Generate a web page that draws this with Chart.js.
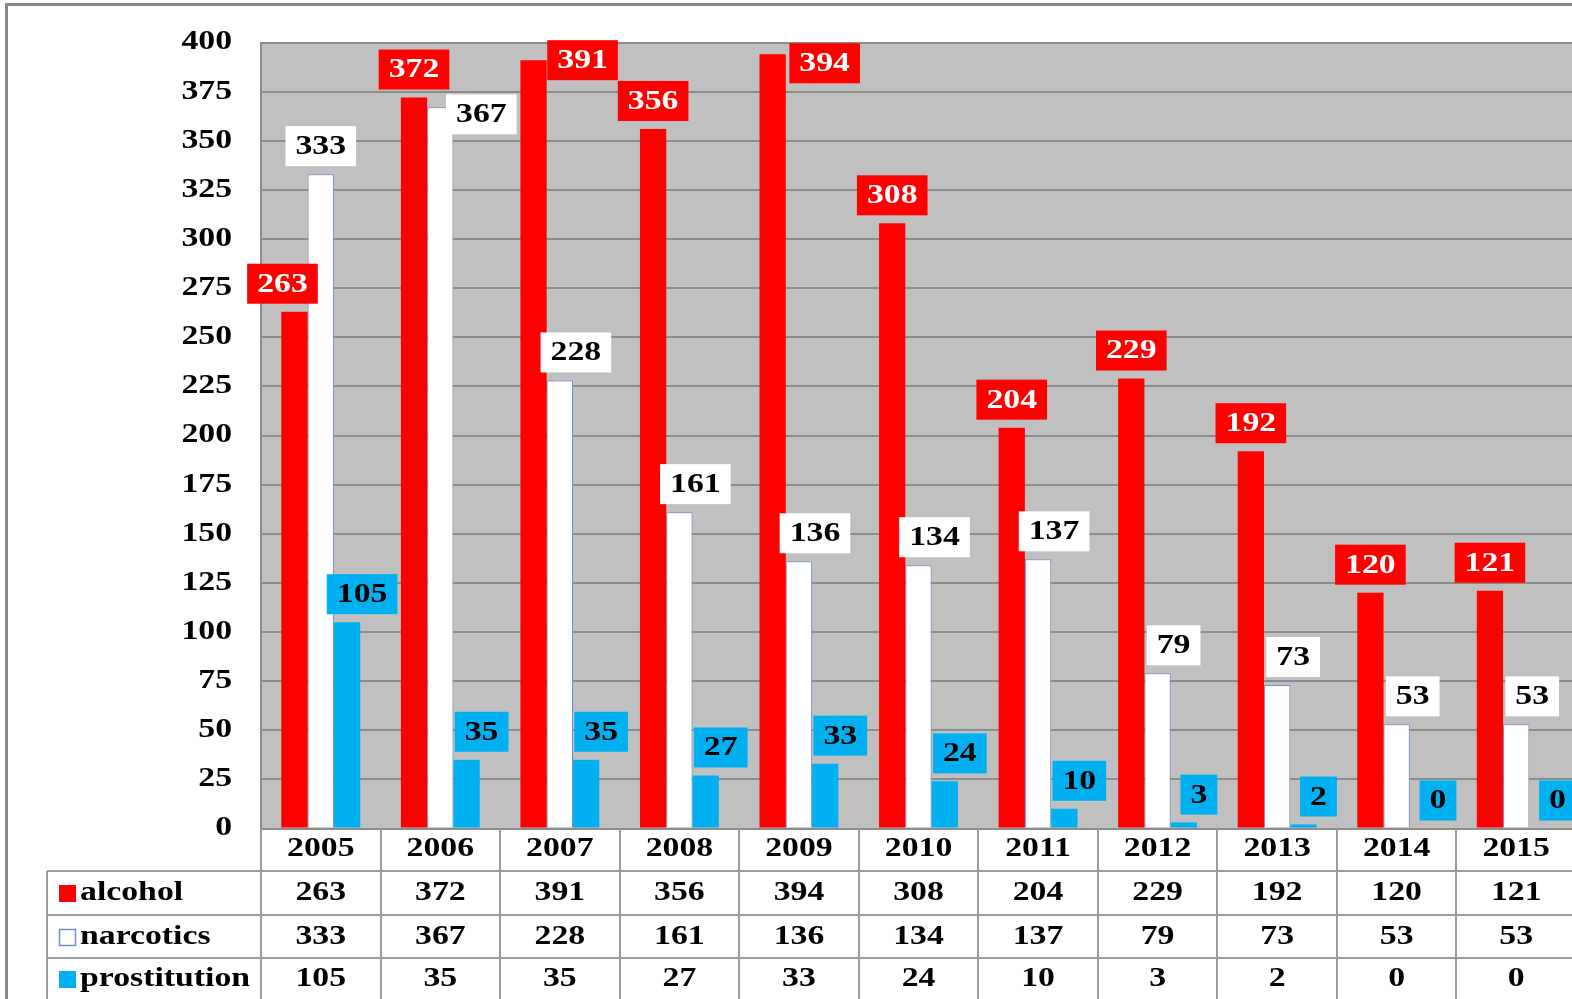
<!DOCTYPE html>
<html>
<head>
<meta charset="utf-8">
<script src="https://cdn.jsdelivr.net/npm/chart.js@4.4.1/dist/chart.umd.min.js"></script>
<style>
  html, body { margin: 0; padding: 0; background: #fff; overflow: hidden; }
  #wrap { width: 1572px; height: 999px; overflow: hidden; position: relative; }
  #chart { position: absolute; left: 0; top: 0; }
</style>
</head>
<body>
<div id="wrap"><canvas id="chart" width="1620" height="999"></canvas></div>
<script>
const years = ["2005", "2006", "2007", "2008", "2009", "2010", "2011", "2012", "2013", "2014", "2015"];
const alcohol = [263, 372, 391, 356, 394, 308, 204, 229, 192, 120, 121];
const narcotics = [333, 367, 228, 161, 136, 134, 137, 79, 73, 53, 53];
const prostitution = [105, 35, 35, 27, 33, 24, 10, 3, 2, 0, 0];
const yTicks = [0, 25, 50, 75, 100, 125, 150, 175, 200, 225, 250, 275, 300, 325, 350, 375, 400];

const FONT = 'bold 27px "Liberation Serif"';
const STRETCH = 1.25;

// text is horizontally stretched in the original
function stretchText(ctx, text, x, y, align, color) {
  ctx.save();
  ctx.font = FONT;
  ctx.fillStyle = color || "#000";
  ctx.textAlign = align || "center";
  ctx.textBaseline = "middle";
  ctx.translate(x, y);
  ctx.scale(STRETCH, 1);
  ctx.fillText(text, 0, 0);
  ctx.restore();
}

function textWidth(ctx, text) {
  ctx.save();
  ctx.font = FONT;
  const w = ctx.measureText(text).width * STRETCH;
  ctx.restore();
  return w;
}

const frameAndBg = {
  id: "frameAndBg",
  beforeDraw(chart) {
    const { ctx, chartArea } = chart;
    ctx.save();
    ctx.fillStyle = "#fff";
    ctx.fillRect(0, 0, chart.width, chart.height);
    ctx.fillStyle = "#c0c0c0";
    ctx.fillRect(chartArea.left, chartArea.top, chartArea.right - chartArea.left, chartArea.bottom - chartArea.top);
    ctx.strokeStyle = "#8a8a8a";
    ctx.lineWidth = 3;
    ctx.beginPath();
    ctx.moveTo(6.5, chart.height);
    ctx.lineTo(6.5, 4.5);
    ctx.lineTo(chart.width, 4.5);
    ctx.stroke();
    ctx.restore();
  },
  afterDraw(chart) {
    // y tick labels
    const y = chart.scales.y;
    yTicks.forEach((t) => stretchText(chart.ctx, String(t), 232, y.getPixelForValue(t), "right"));
  },
};

// boxed value labels above the bars
const boxLabels = {
  id: "boxLabels",
  afterDatasetsDraw(chart, args, opts) {
    const { ctx } = chart;
    chart.data.datasets.forEach((ds, di) => {
      const meta = chart.getDatasetMeta(di);
      meta.data.forEach((bar, i) => {
        const text = String(ds.data[i]);
        const nudge = opts.nudges[di + "-" + i] || [ds.labelShift, -8];
        const w = textWidth(ctx, text) + 20;
        const h = 40;
        const cx = bar.x + nudge[0];
        const bottom = bar.y + nudge[1];
        ctx.save();
        ctx.fillStyle = ds.labelBg;
        ctx.fillRect(cx - w / 2, bottom - h, w, h);
        ctx.restore();
        stretchText(ctx, text, cx, bottom - h / 2 + 1, "center", ds.labelColor);
      });
    });
  },
};

// data table under the plot
const dataTable = {
  id: "dataTable",
  afterDraw(chart) {
    const { ctx, chartArea } = chart;
    const x = chart.scales.x;
    const step = x.getPixelForValue(1) - x.getPixelForValue(0);
    const rowLines = [chartArea.bottom, 871, 915, 958];
    const rowMid = [849, 893, 937, 979];
    const tableLeft = 47;
    ctx.save();
    ctx.strokeStyle = "#9c9c9c";
    ctx.lineWidth = 2;
    ctx.beginPath();
    for (let r = 1; r < rowLines.length; r++) {
      ctx.moveTo(tableLeft, rowLines[r]);
      ctx.lineTo(chart.width, rowLines[r]);
    }
    ctx.moveTo(tableLeft, rowLines[1]);
    ctx.lineTo(tableLeft, chart.height);
    for (let i = 0; i <= years.length; i++) {
      const bx = Math.round(x.getPixelForValue(i) - step / 2);
      ctx.moveTo(bx, chartArea.bottom);
      ctx.lineTo(bx, chart.height);
    }
    ctx.stroke();
    ctx.restore();

    years.forEach((yr, i) => stretchText(ctx, yr, x.getPixelForValue(i), rowMid[0]));
    chart.data.datasets.forEach((ds, di) => {
      const ym = rowMid[di + 1];
      ctx.save();
      ctx.fillStyle = ds.backgroundColor;
      ctx.fillRect(59, ym - 8, 17, 17);
      if (ds.borderWidth) {
        ctx.strokeStyle = ds.borderColor;
        ctx.lineWidth = 1.5;
        ctx.strokeRect(59.5, ym - 7.5, 16, 16);
      }
      ctx.restore();
      stretchText(ctx, ds.label, 80, ym, "left");
      ds.data.forEach((v, i) => stretchText(ctx, String(v), x.getPixelForValue(i), ym));
    });
  },
};

function buildChart() {
  new Chart(document.getElementById("chart"), {
    type: "bar",
    data: {
      labels: years,
      datasets: [
        { label: "alcohol", data: alcohol, backgroundColor: "#ff0000", borderWidth: 0,
          labelBg: "#ff0000", labelColor: "#fff", labelShift: 0 },
        { label: "narcotics", data: narcotics, backgroundColor: "#ffffff", borderColor: "#6f90c8", borderWidth: 1,
          labelBg: "#ffffff", labelColor: "#000", labelShift: 16 },
        { label: "prostitution", data: prostitution, backgroundColor: "#00b0f0", borderWidth: 0,
          labelBg: "#00b0f0", labelColor: "#000", labelShift: 15 },
      ],
    },
    options: {
      responsive: false,
      animation: false,
      layout: { padding: { left: 0, top: 42.5, right: 44, bottom: 170.5 } },
      datasets: { bar: { categoryPercentage: 0.66, barPercentage: 1.0 } },
      scales: {
        x: { display: false },
        y: {
          min: 0,
          max: 400,
          ticks: { display: false, stepSize: 25 },
          grid: { color: "#8c8c8c", lineWidth: 2, drawTicks: false },
          border: { color: "#8c8c8c", width: 2 },
          afterFit(scale) { scale.width = 261; },
        },
      },
      plugins: {
        legend: { display: false },
        tooltip: { enabled: false },
        boxLabels: {
          nudges: {
            "0-2": [49, 20],
            "0-4": [52, 29],
            "0-0": [-12, -8],
            "1-0": [0, -8],
            "1-1": [41, 27],
          },
        },
      },
    },
    plugins: [frameAndBg, boxLabels, dataTable],
  });
}

document.fonts.load(FONT).then(buildChart, buildChart);
</script>
</body>
</html>
